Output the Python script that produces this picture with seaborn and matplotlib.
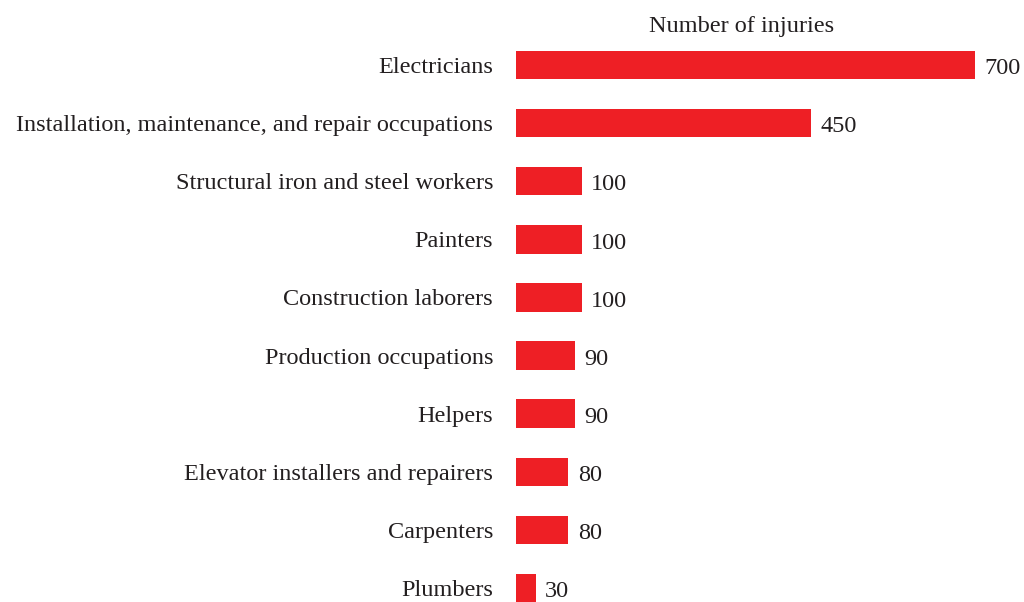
import pandas as pd
import matplotlib.pyplot as plt
import seaborn as sns

occupations = [
    'Electricians',
    'Installation, maintenance, and repair occupations',
    'Structural iron and steel workers',
    'Painters',
    'Construction laborers',
    'Production occupations',
    'Helpers',
    'Elevator installers and repairers',
    'Carpenters',
    'Plumbers',
]
injuries = [700, 450, 100, 100, 100, 90, 90, 80, 80, 30]

df = pd.DataFrame({'Occupation': occupations, 'Injuries': injuries})

sns.set_style('white')
plt.rcParams['font.family'] = ['Liberation Serif', 'DejaVu Serif']
text_color = '#231F20'
fs = 17.5

fig = plt.figure(figsize=(10.24, 6.02), dpi=100)
ax = fig.add_axes([516 / 1024, 0, 1 - 516 / 1024, (602 - 36) / 602])

sns.barplot(data=df, x='Injuries', y='Occupation', color='#EE1F25',
            width=0.49, saturation=1, linewidth=0, ax=ax)

ax.set_xlim(0, (1024 - 516) / (459 / 700))
ax.set_ylim(9 + 14 / 58.1, -0.5)

# value labels just right of each bar
for i, v in enumerate(injuries):
    ax.text(v + 14, i + 0.02, str(v), va='center_baseline', ha='left',
            fontsize=fs, color=text_color)

ax.set_xlabel('')
ax.set_ylabel('')
ax.set_xticks([])
ax.tick_params(axis='y', length=0, pad=16.5, labelsize=fs, labelcolor=text_color)
for lbl in ax.get_yticklabels():
    lbl.set_verticalalignment('center_baseline')
sns.despine(ax=ax, left=True, bottom=True)

fig.text(742 / 1024, 1 - 24 / 602, 'Number of injuries', ha='center',
         va='center_baseline', fontsize=fs, color=text_color)

plt.savefig('out.png', dpi=100)
